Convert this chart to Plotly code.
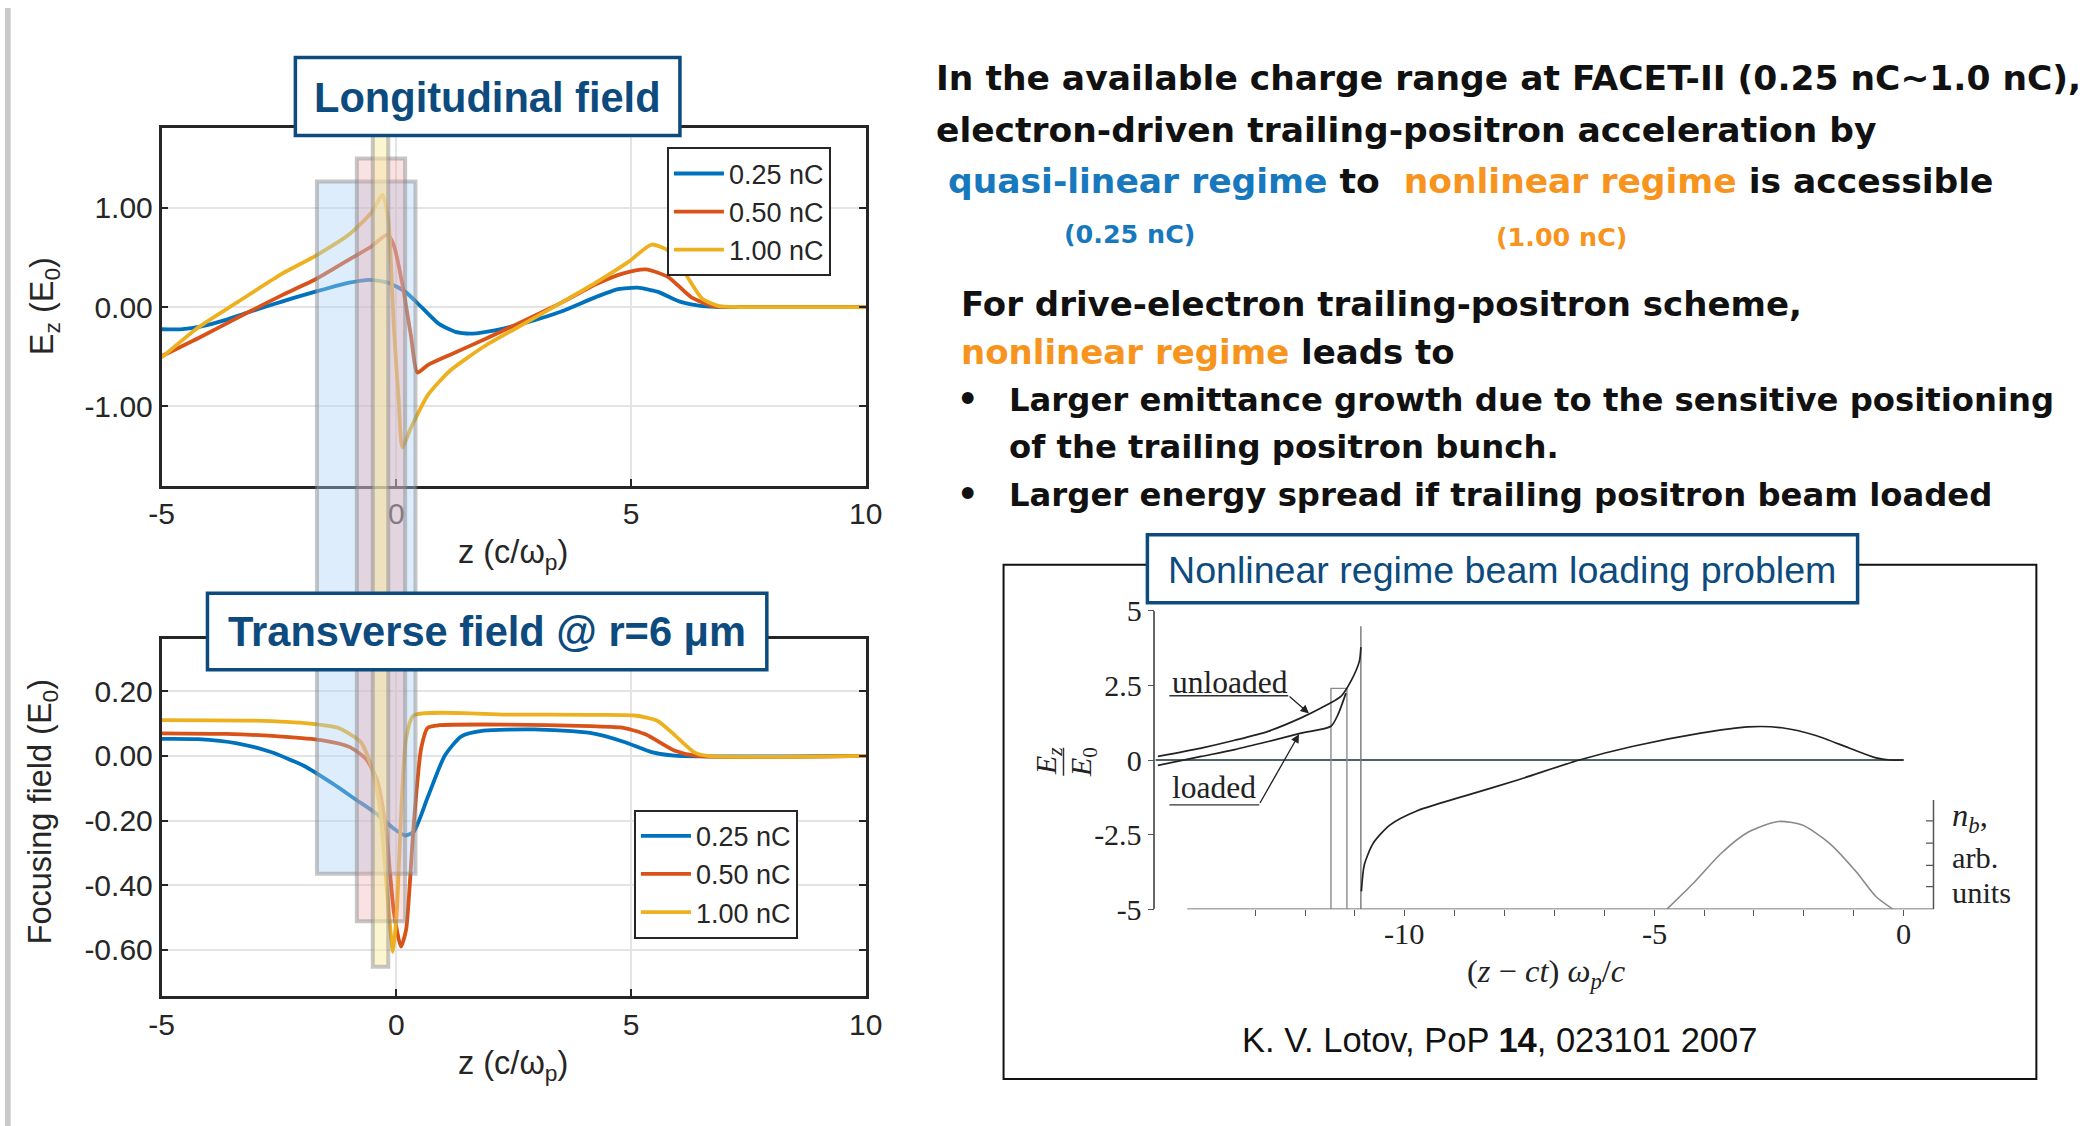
import plotly.graph_objects as go

W, H = 2096, 1126
# positions are given in reference-picture pixels; the small offsets/scales compensate
# for how the page is captured
def PX(x): return ((x - 2.3) / 1.0021) / W
def PY(y): return 1 - ((y - 6.6) / 1.0013) / H
FS = 1.015

# ---------------- data: longitudinal field Ez (E0) ----------------
ez_z_025 = [-5, -4.6, -4.2, -3.63, -3.2, -2.67, -2.2, -1.72, -1.3, -1.0, -0.58, -0.17, 0.19, 0.55, 0.91, 1.26, 1.62, 2.1, 2.82, 3.53, 4.25, 4.73, 5.14, 5.56, 6.04, 6.52, 7.0, 10]
ez_v_025 = [-0.224, -0.225, -0.2, -0.13, -0.06, 0.02, 0.09, 0.155, 0.21, 0.245, 0.274, 0.245, 0.155, -0.007, -0.17, -0.25, -0.267, -0.235, -0.15, -0.043, 0.10, 0.18, 0.195, 0.155, 0.054, 0.01, 0.0, 0.0]
ez_z_050 = [-5, -4.22, -3.27, -2.43, -1.72, -1.0, -0.53, -0.19, -0.05, 0.13, 0.31, 0.45, 0.67, 1.15, 1.86, 2.58, 3.53, 4.25, 4.84, 5.32, 5.8, 6.28, 6.75, 7.2, 10]
ez_v_050 = [-0.495, -0.314, -0.08, 0.12, 0.28, 0.48, 0.61, 0.73, 0.62, 0.23, -0.28, -0.66, -0.585, -0.48, -0.33, -0.17, 0.047, 0.23, 0.34, 0.38, 0.30, 0.10, 0.01, 0.0, 0.0]
ez_z_100 = [-5, -4.22, -3.39, -2.43, -1.72, -1.0, -0.53, -0.29, -0.17, -0.05, 0.05, 0.13, 0.31, 0.67, 1.15, 1.86, 2.58, 3.53, 4.25, 4.96, 5.44, 5.86, 6.16, 6.52, 6.87, 7.3, 10]
ez_v_100 = [-0.51, -0.206, 0.047, 0.336, 0.516, 0.733, 0.95, 1.13, 0.88, -0.21, -0.93, -1.415, -1.22, -0.89, -0.64, -0.40, -0.206, 0.047, 0.245, 0.46, 0.63, 0.55, 0.336, 0.083, 0.01, 0.0, 0.0]

# ---------------- data: transverse focusing field (E0) ----------------
fr_z_025 = [-5, -4.22, -3.39, -2.67, -1.96, -1.36, -0.88, -0.41, -0.05, 0.19, 0.37, 0.67, 1.03, 1.38, 1.86, 2.94, 4.13, 4.84, 5.44, 5.92, 10]
fr_v_025 = [0.053, 0.052, 0.039, 0.012, -0.031, -0.085, -0.133, -0.18, -0.225, -0.246, -0.235, -0.128, 0.0, 0.06, 0.078, 0.082, 0.071, 0.044, 0.012, 0.001, 0.0]
fr_z_050 = [-5, -3.63, -2.43, -1.6, -1.0, -0.64, -0.41, -0.23, -0.05, 0.10, 0.21, 0.37, 0.53, 0.67, 0.91, 2.34, 4.13, 4.84, 5.32, 5.92, 6.4, 10]
fr_v_050 = [0.07, 0.068, 0.06, 0.049, 0.028, -0.01, -0.074, -0.214, -0.483, -0.59, -0.537, -0.214, 0.023, 0.087, 0.095, 0.097, 0.092, 0.087, 0.066, 0.017, 0.0, 0.0]
fr_z_100 = [-5, -3.03, -1.84, -1.24, -0.76, -0.53, -0.35, -0.19, -0.07, 0.01, 0.11, 0.21, 0.37, 2.34, 4.13, 5.08, 5.56, 5.92, 6.34, 6.63, 10]
fr_v_100 = [0.111, 0.109, 0.10, 0.087, 0.044, -0.031, -0.16, -0.43, -0.606, -0.483, -0.16, 0.055, 0.125, 0.128, 0.127, 0.125, 0.109, 0.066, 0.012, 0.0, 0.0]

series_names = ["0.25 nC", "0.50 nC", "1.00 nC"]
series_colors = ["#0072BD", "#D95319", "#EDB120"]

# bunch regions (z, c/wp) shaded across both panels
bunch_z0 = [-1.69, -0.84, -0.50]
bunch_z1 = [0.41, 0.19, -0.17]

x_ticks = [-5, 0, 5, 10]
x_ticktext = ["-5", "0", "5", "10"]
ez_ticks = [-1, 0, 1]
ez_ticktext = ["-1.00", "0.00", "1.00"]
fr_ticks = [-0.6, -0.4, -0.2, 0.0, 0.2]
fr_ticktext = ["-0.60", "-0.40", "-0.20", "0.00", "0.20"]

# ---------------- data: inset (Lotov 2007) ----------------
unl_z = [-14.95, -14.08, -13.41, -12.74, -12.08, -11.68, -11.28, -11.08, -10.91, -10.88]
unl_v = [0.12, 0.40, 0.66, 0.96, 1.41, 1.74, 2.13, 2.64, 3.31, 3.78]
lod_z = [-14.95, -14.08, -13.41, -12.74, -12.08, -11.48, -11.34, -11.18]
lod_v = [-0.18, 0.12, 0.35, 0.62, 0.90, 1.13, 1.52, 2.24]
wake_z = [-10.87, -10.81, -10.63, -10.30, -9.75, -8.81, -7.72, -6.50, -5.42, -4.07, -3.12, -2.44, -1.76, -1.09, -0.55, -0.28, 0.0]
wake_v = [-4.40, -3.50, -2.78, -2.18, -1.70, -1.21, -0.66, 0.0, 0.46, 0.90, 1.11, 1.08, 0.82, 0.40, 0.07, 0.0, 0.0]
spike_z = [-10.88, -10.88]
spike_v = [4.48, -5.0]
drv_z = [-4.75, -4.20, -3.66, -3.12, -2.51, -2.03, -1.49, -0.95, -0.55, -0.21]
drv_v = [-5.0, -4.10, -3.13, -2.42, -2.06, -2.18, -2.78, -3.74, -4.58, -5.0]
trail_z = [-11.48, -11.16]
trail_top = 2.4
inset_zero_z = [-15.0, 0.0]
inset_xline = [-14.36, 0.60]
nb_axis_z = 0.60
nb_axis_top = -1.34
nb_ticks = [-2.04, -2.78, -3.53, -4.24]
inset_yticks = [-5, -2.5, 0, 2.5, 5]
inset_yticktext = ["-5", "-2.5", "0", "2.5", "5"]
inset_xticks = list(range(-13, 1))
inset_xlabel_vals = [-10, -5, 0]
inset_xlabel_text = ["-10", "-5", "0"]

SANS = "Liberation Sans"
SERIF = "Liberation Serif"
AX = "#262626"

fig = go.Figure()

ez_sets = [(ez_z_025, ez_v_025), (ez_z_050, ez_v_050), (ez_z_100, ez_v_100)]
fr_sets = [(fr_z_025, fr_v_025), (fr_z_050, fr_v_050), (fr_z_100, fr_v_100)]
for (zz, vv), nm, col in zip(ez_sets, series_names, series_colors):
    fig.add_trace(go.Scatter(x=zz, y=vv, name=nm, mode="lines",
                             line=dict(color=col, width=3.8, shape="spline", smoothing=0.6),
                             xaxis="x", yaxis="y", legend="legend"))
for (zz, vv), nm, col in zip(fr_sets, series_names, series_colors):
    fig.add_trace(go.Scatter(x=zz, y=vv, name=nm, mode="lines",
                             line=dict(color=col, width=3.8, shape="spline", smoothing=0.6),
                             xaxis="x2", yaxis="y2", legend="legend2"))

# ---- inset traces ----
def inset_line(x, y, color, width, shape="linear"):
    fig.add_trace(go.Scatter(x=x, y=y, mode="lines", showlegend=False, hoverinfo="skip",
                             line=dict(color=color, width=width, shape=shape,
                                       smoothing=0.7 if shape == "spline" else None),
                             xaxis="x3", yaxis="y3"))

inset_line(inset_zero_z, [0, 0], "#4e6464", 1.8)
inset_line(inset_xline, [-5, -5], "#555555", 1.5)
inset_line([nb_axis_z, nb_axis_z], [-5, nb_axis_top], "#555555", 1.5)
for t in nb_ticks:
    inset_line([nb_axis_z, nb_axis_z - 0.15], [t, t], "#555555", 1.3)
inset_line([trail_z[0], trail_z[0], trail_z[1], trail_z[1]], [-5, trail_top, trail_top, -5], "#8a8a8a", 1.4)
inset_line(spike_z, spike_v, "#777777", 1.4)
inset_line(drv_z, drv_v, "#8a8a8a", 1.6, "spline")
inset_line(unl_z, unl_v, "#222222", 1.7, "spline")
inset_line(lod_z, lod_v, "#222222", 1.7, "spline")
inset_line(wake_z, wake_v, "#222222", 1.7, "spline")

# ---------------- shapes ----------------
shapes = []
shapes.append(dict(type="rect", xref="paper", yref="paper", x0=0, x1=PX(8), y0=0, y1=1,
                   fillcolor="#cacaca", line=dict(width=0), layer="below"))
bunch_fill = ["rgba(170,210,248,0.40)", "rgba(240,160,160,0.30)", "rgba(248,238,160,0.50)"]
bunch_top_px = [180, 157, 125]
bunch_bot_px = [872, 919.5, 965]
for i in range(3):
    shapes.append(dict(type="rect", xref="x", yref="paper", x0=bunch_z0[i], x1=bunch_z1[i],
                       y0=PY(bunch_bot_px[i]), y1=PY(bunch_top_px[i]),
                       fillcolor=bunch_fill[i], line=dict(color="rgba(130,130,130,0.45)", width=4),
                       layer="above"))
# title boxes
NAVY = "#0d4b7e"
for (x0, x1, y0, y1) in [(293, 678, 56, 134), (205, 765, 591.5, 668)]:
    shapes.append(dict(type="rect", xref="paper", yref="paper", x0=PX(x0), x1=PX(x1),
                       y0=PY(y1), y1=PY(y0), fillcolor="white",
                       line=dict(color=NAVY, width=3.5), layer="above"))
# inset frame + title box
shapes.append(dict(type="rect", xref="paper", yref="paper", x0=PX(1002), x1=PX(2036), y0=PY(1077), y1=PY(563),
                   fillcolor="rgba(0,0,0,0)", line=dict(color="#111111", width=2), layer="above"))
shapes.append(dict(type="rect", xref="paper", yref="paper", x0=PX(1146), x1=PX(1857), y0=PY(601), y1=PY(533),
                   fillcolor="white", line=dict(color=NAVY, width=3.5), layer="above"))
# fraction bar of Ez/E0
shapes.append(dict(type="line", xref="paper", yref="paper", x0=PX(1062), x1=PX(1062), y0=PY(774), y1=PY(746),
                   line=dict(color="#333333", width=1.5)))
# leader lines for unloaded / loaded
shapes.append(dict(type="line", xref="paper", yref="paper", x0=PX(1168), x1=PX(1287), y0=PY(694), y1=PY(694),
                   line=dict(color="#333333", width=1.3)))
shapes.append(dict(type="line", xref="paper", yref="paper", x0=PX(1168), x1=PX(1258), y0=PY(803), y1=PY(803),
                   line=dict(color="#333333", width=1.3)))

# ---------------- annotations ----------------
ann = []
def T(text, x, y, size, color="#111111", family=SANS, xanchor="center", yanchor="middle", angle=0):
    ann.append(dict(text=text, x=PX(x), y=PY(y), xref="paper", yref="paper", showarrow=False,
                    xanchor=xanchor, yanchor=yanchor, textangle=angle,
                    font=dict(family=family, size=round(size * FS, 1), color=color)))

# panel titles
T("<b>Longitudinal field</b>", 485.5, 96, 41, NAVY)
T("<b>Transverse field @ r=6 μm</b>", 485, 630, 41, NAVY)
# axis titles
T("E<sub>z</sub> (E<sub>0</sub>)", 42, 305, 32, AX, angle=-90)
T("Focusing field (E<sub>0</sub>)", 40, 810, 32, AX, angle=-90)
T("z (c/ω<sub>p</sub>)", 511, 553, 32, AX)
T("z (c/ω<sub>p</sub>)", 511, 1064, 32, AX)

# right-hand text
RT = "DejaVu Sans"
BLUE = "#1778bd"
ORNG = "#f7941d"
T("<b>In the available charge range at FACET-II (0.25 nC~1.0 nC),</b>", 932, 77, 34, "#111111", RT, "left")
T("<b>electron-driven trailing-positron acceleration by</b>", 932, 129, 34, "#111111", RT, "left")
T(f"<b><span style='color:{BLUE}'>quasi-linear regime</span> to  <span style='color:{ORNG}'>nonlinear regime</span> is accessible</b>",
  944, 180, 34, "#111111", RT, "left")
T("<b>(0.25 nC)</b>", 1128, 232, 25, BLUE, RT)
T("<b>(1.00 nC)</b>", 1561, 235, 25, ORNG, RT)
T("<b>For drive-electron trailing-positron scheme,</b>", 957, 302, 33.5, "#111111", RT, "left")
T(f"<b><span style='color:{ORNG}'>nonlinear regime</span> leads to</b>", 957, 350, 33.5, "#111111", RT, "left")
T("<b>•</b>", 966, 398, 33, "#111111", RT)
T("<b>Larger emittance growth due to the sensitive positioning</b>", 1005, 398, 31.8, "#111111", RT, "left")
T("<b>of the trailing positron bunch.</b>", 1005, 445, 31.8, "#111111", RT, "left")
T("<b>•</b>", 966, 493, 33, "#111111", RT)
T("<b>Larger energy spread if trailing positron beam loaded</b>", 1005, 493, 31.8, "#111111", RT, "left")

# inset texts
T("Nonlinear regime beam loading problem", 1501, 568, 37, NAVY)
T("<i>E</i><sub><i>z</i></sub>", 1046, 760, 30, "#222222", SERIF, angle=-90)
T("<i>E</i><sub>0</sub>", 1081, 760, 30, "#222222", SERIF, angle=-90)
T("unloaded", 1169, 681, 31, "#222222", SERIF, "left")
T("loaded", 1169, 786, 31, "#222222", SERIF, "left")
T("<i>n</i><sub><i>b</i></sub>,", 1950, 816, 32, "#222222", SERIF, "left")
T("arb.", 1950, 856, 30, "#222222", SERIF, "left")
T("units", 1950, 891, 30, "#222222", SERIF, "left")
T("(<i>z</i> − <i>ct</i>) <i>ω</i><sub><i>p</i></sub>/<i>c</i>", 1546, 972, 32, "#222222", SERIF)
T("K. V. Lotov, PoP <b>14</b>, 023101 2007", 1499, 1038, 34, "#111111", SANS)

# inset x tick labels, placed at their axis values
for v, s in zip(inset_xlabel_vals, inset_xlabel_text):
    ann.append(dict(text=s, x=v, y=PY(932), xref="x3", yref="paper", showarrow=False,
                    xanchor="center", yanchor="middle",
                    font=dict(family=SERIF, size=round(30 * FS, 1), color="#222222")))

# arrows to the curves (inset data coords)
for tip, tail in [((-11.92, 1.56), (-12.34, 2.17)), ((-12.12, 0.86), (-12.92, -1.49))]:
    ann.append(dict(x=tip[0], y=tip[1], ax=tail[0], ay=tail[1], xref="x3", yref="y3",
                    axref="x3", ayref="y3", text="", showarrow=True, arrowhead=2,
                    arrowsize=1.3, arrowwidth=1.3, arrowcolor="#222222"))

axis_common = dict(showline=True, linewidth=2.5, linecolor=AX, mirror="ticks", ticks="inside",
                   ticklen=7, tickwidth=2, tickcolor=AX, showgrid=True, gridcolor="#e4e4e4",
                   gridwidth=2, zeroline=False, tickfont=dict(family=SANS, size=30, color=AX))

legend_common = dict(xanchor="left", yanchor="top", bgcolor="white", bordercolor=AX, borderwidth=2,
                     font=dict(family=SANS, size=27, color=AX), tracegroupgap=0, itemwidth=50)

fig.update_layout(
    autosize=True, margin=dict(l=0, r=0, t=0, b=0),
    paper_bgcolor="white", plot_bgcolor="white",
    xaxis=dict(domain=[PX(159), PX(864)], range=[-5, 10], anchor="y",
               tickvals=x_ticks, ticktext=x_ticktext, **axis_common),
    yaxis=dict(domain=[PY(484), PY(127)], range=[-1.8, 1.8], anchor="x",
               tickvals=ez_ticks, ticktext=ez_ticktext, **axis_common),
    xaxis2=dict(domain=[PX(159), PX(864)], range=[-5, 10], anchor="y2",
                tickvals=x_ticks, ticktext=x_ticktext, **axis_common),
    yaxis2=dict(domain=[PY(994), PY(637.5)], range=[-0.742, 0.361], anchor="x2",
                tickvals=fr_ticks, ticktext=fr_ticktext, **axis_common),
    xaxis3=dict(domain=[PX(1154), PX(1940)], range=[-15, 0.74], anchor="y3",
                showline=False, showgrid=False, zeroline=False, ticks="outside", ticklen=6,
                tickwidth=1.3, tickcolor="#555555", tickvals=inset_xticks, showticklabels=False),
    yaxis3=dict(domain=[PY(907.5), PY(609)], range=[-5, 5], anchor="x3",
                showline=True, linecolor="#666666", linewidth=1.5, showgrid=False, zeroline=False,
                ticks="outside", ticklen=6, tickwidth=1.3, tickcolor="#555555",
                tickvals=inset_yticks, ticktext=inset_yticktext,
                tickfont=dict(family=SERIF, size=30, color="#222222")),
    legend=dict(x=PX(665), y=PY(146), **legend_common),
    legend2=dict(x=PX(632), y=PY(808), **legend_common),
    shapes=shapes, annotations=ann,
)

# the plot div cancels the page's default 8px body margin and is sized to the captured area
fig.write_html("out.html", default_width="2128px; margin:-8px", default_height="1160px")
